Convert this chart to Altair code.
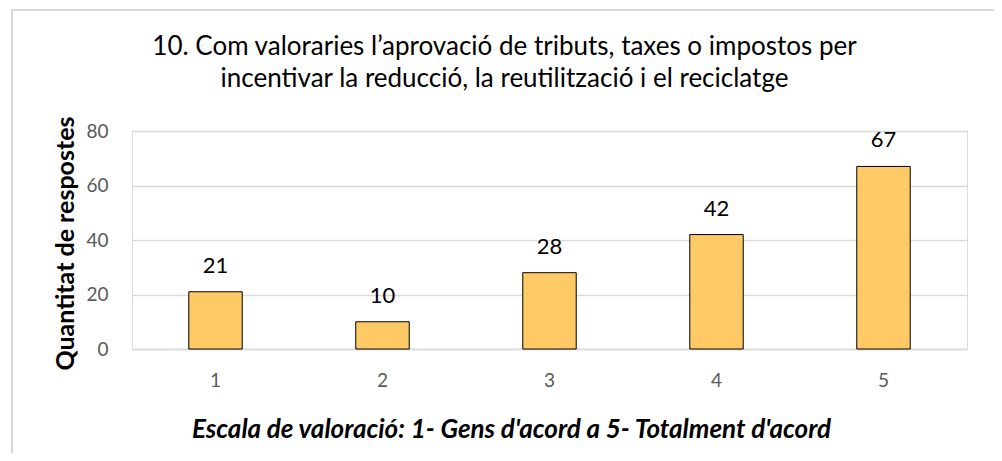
import altair as alt
import pandas as pd

categories = ["1", "2", "3", "4", "5"]
values = [21, 10, 28, 42, 67]

title_lines = [
    "10. Com valoraries l\u2019aprovació de tributs, taxes o impostos per",
    "incentivar la reducció, la reutilització i el reciclatge",
]
y_title = "Quantitat  de respostes"
x_title = "Escala de valoració: 1- Gens d'acord a 5- Totalment d'acord"

df = pd.DataFrame({"cat": categories, "val": values})
FONT = "Lato"

base = alt.Chart(df)

frame = base.mark_rect(fill="transparent", stroke="#D9D9D9", strokeWidth=2, clip=False).encode(
    x=alt.value(-120), x2=alt.value(865), y=alt.value(-121), y2=alt.value(340)
)

bars = base.mark_bar(color="#FFCA66", stroke="#000000", strokeWidth=1).encode(
    x=alt.X(
        "cat:N",
        sort=categories,
        scale=alt.Scale(paddingInner=0.68, paddingOuter=0.34),
        axis=alt.Axis(
            title=x_title,
            labelAngle=0,
            labelColor="#595959",
            labelFontSize=19,
            labelFont=FONT,
            labelPadding=22,
            ticks=False,
            domainColor="#D9D9D9",
            domainWidth=1.5,
            titleFont=FONT,
            titleFontSize=26,
            titleFontStyle="italic",
            titleFontWeight="bold",
            titleColor="#000000",
            titleX=379,
            titleY=80,
            titleAlign="center",
            titleBaseline="middle",
        ),
    ),
    y=alt.Y(
        "val:Q",
        scale=alt.Scale(domain=[0, 80]),
        axis=alt.Axis(
            title=y_title,
            values=[0, 20, 40, 60, 80],
            labelColor="#595959",
            labelFontSize=19,
            labelFont=FONT,
            labelPadding=24,
            ticks=False,
            domain=False,
            gridColor="#D9D9D9",
            gridWidth=1.5,
            titleFont=FONT,
            titleFontSize=25,
            titleFontWeight="bold",
            titleColor="#000000",
            titleX=-67,
            titleY=112,
            titleAngle=-90,
            titleAlign="center",
            titleBaseline="middle",
        ),
    ),
)

labels = base.mark_text(baseline="bottom", dy=-14, fontSize=22, font=FONT, color="#000000").encode(
    x=alt.X("cat:N", sort=categories),
    y=alt.Y("val:Q"),
    text=alt.Text("val:Q"),
)

chart = (
    alt.layer(frame, bars, labels)
    .properties(
        width=835,
        height=218,
        autosize=alt.AutoSizeParams(type="none"),
        padding={"left": 124, "top": 123, "right": 27, "bottom": 104},
        title=alt.TitleParams(
            text=title_lines,
            font=FONT,
            fontSize=26,
            fontWeight="normal",
            color="#000000",
            anchor="middle",
            frame="group",
            dx=-45,
            dy=83,
            offset=0,
            lineHeight=32,
        ),
    )
    .configure_view(stroke=None)
    .configure(background="white")
)

chart.save("out.html", embed_options={"renderer": "svg", "actions": False})
